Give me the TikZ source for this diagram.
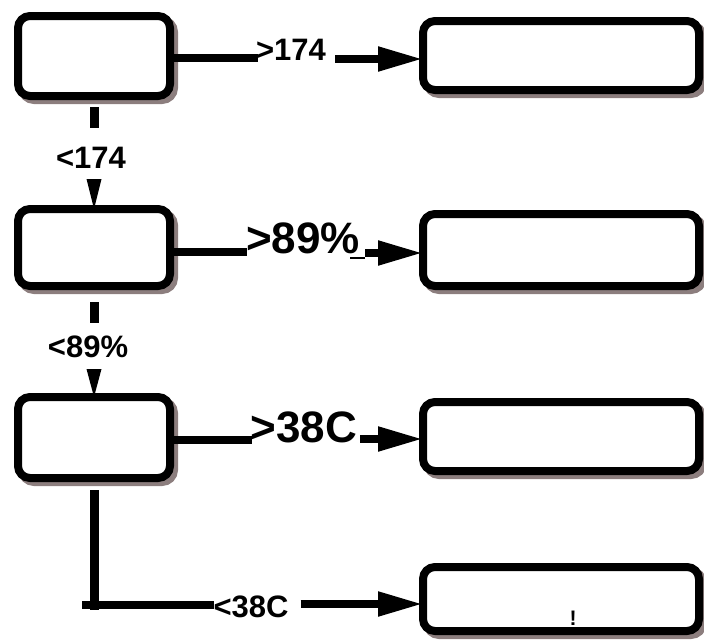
\documentclass[tikz,border=0pt]{standalone}
\usepackage{fontspec}
\setmainfont{Liberation Sans}
\usetikzlibrary{arrows.meta,shadows}
\definecolor{shadowc}{RGB}{140,126,126}
\tikzset{
  box/.style={draw=black, fill=white, line width=8pt, rounded corners=12pt,
    inner sep=0pt, outer sep=0pt,
    drop shadow={shadow xshift=4pt, shadow yshift=-4pt, fill=shadowc, draw=shadowc, line width=8pt, opacity=1}},
  lbox/.style={box, minimum width=152pt},
  rbox/.style={box, minimum width=276pt},
  small/.style={font=\bfseries\fontsize{31}{31}\selectfont, inner sep=0pt, anchor=base},
  big/.style={font=\bfseries\fontsize{44}{44}\selectfont, inner sep=0pt, anchor=base},
  conn/.style={line width=8pt, line cap=butt},
  vconn/.style={line width=9pt, line cap=butt},
  harrow/.style={line width=8pt, -{Triangle[length=45pt, width=23pt]}},
}
\begin{document}
\begin{tikzpicture}[x=1pt, y=-1pt]
\useasboundingbox (0,0) rectangle (704,640);
% boxes
\node[lbox, minimum height=80pt] (b1) at (94,56) {};
\node[lbox, minimum height=77pt] (b2) at (94,247.5) {};
\node[lbox, minimum height=81pt] (b3) at (94,437.5) {};
\node[rbox, minimum height=69pt] (r1) at (561,55.5) {};
\node[rbox, minimum height=72pt] (r2) at (561,250) {};
\node[rbox, minimum height=69pt] (r3) at (561,436.5) {};
\node[rbox, minimum height=64pt] (r4) at (561,599) {};
% labels
\node[small] (l1) at (291,60) {>174};
\node[small] (l2) at (91,168) {<174};
\node[big] (l3) at (303,253) {>89\%};
\node[small] (l4) at (88,357) {<89\%};
\node[big] (l5) at (304,442) {>38C};
\node[small] (l6) at (251,617) {<38C};
\node[font=\bfseries\fontsize{21}{21}\selectfont, inner sep=0pt, anchor=base] (ex) at (573,625) {!};
% row 1
\draw[conn] (b1.east |- 0,58) -- ([xshift=2pt]l1.west |- 0,58);
\draw[harrow] ([xshift=9pt]l1.east |- 0,59) -- (r1.west |- 0,59);
% row 2
\draw[conn] (b2.east |- 0,252) -- ([xshift=1pt]l3.west |- 0,252);
\draw[line width=1.5pt] ([xshift=-10pt]l3.east |- 0,258) -- ([xshift=5pt]l3.east |- 0,258);
\draw[harrow] ([xshift=5pt]l3.east |- 0,253) -- (r2.west |- 0,253);
% row 3
\draw[conn] (b3.east |- 0,440) -- ([xshift=1pt]l5.west |- 0,440);
\draw[harrow] ([xshift=3pt]l5.east |- 0,439) -- (r3.west |- 0,439);
% row 4
\draw[vconn] (b3.south |- 0,490) -- (b3.south |- 0,610);
\draw[conn] ([xshift=-12pt]b3.south |- 0,605) -- ([xshift=1pt]l6.west |- 0,605);
\draw[harrow] ([xshift=12pt]l6.east |- 0,604) -- (r4.west |- 0,604);
% verticals
\draw[vconn] (b1.south |- 0,107) -- (b1.south |- 0,128);
\fill (b2.north) ++(-7.5,-30) -- ++(15,0) -- (b2.north) -- cycle;
\draw[vconn] (b2.south |- 0,302) -- (b2.south |- 0,323);
\fill (b3.north) ++(-7.5,-28) -- ++(15,0) -- (b3.north) -- cycle;
\end{tikzpicture}
\end{document}
